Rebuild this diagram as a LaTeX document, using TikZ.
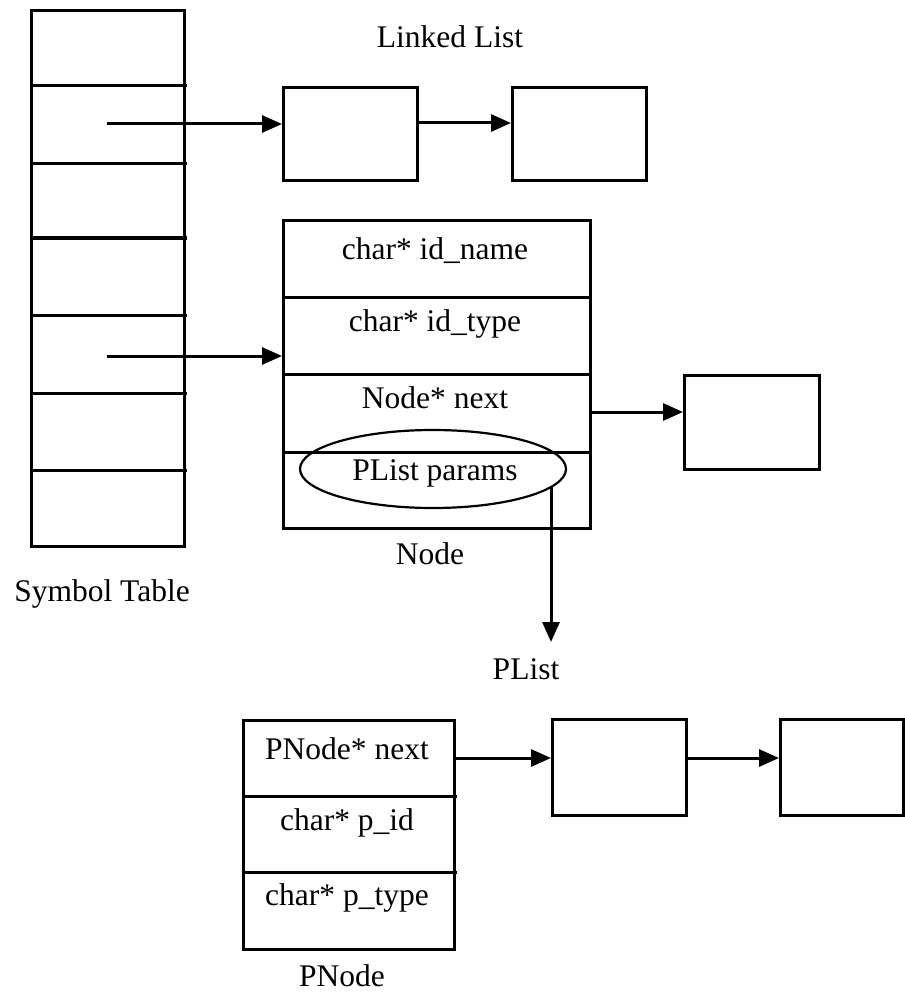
\documentclass[tikz,border=0pt]{standalone}
\usepackage{fontspec}
\setmainfont{Liberation Serif}
\usetikzlibrary{arrows.meta,shapes.geometric}
\tikzset{
  every picture/.style={x=1pt,y=-1pt},
  ln/.style={line width=3pt},
  boxnode/.style={draw,line width=3pt,rectangle,inner sep=0pt,anchor=north west},
  lbl/.style={inner sep=0pt,anchor=center,font=\fontsize{31.5}{36}\selectfont},
  arr/.style={line width=3pt,-{Triangle[length=20pt,width=17pt]}},
  oval/.style={draw,line width=2.2pt,ellipse,inner sep=0pt,minimum width=266pt,minimum height=78pt}
}
\begin{document}
\begin{tikzpicture}
\useasboundingbox (0,0) rectangle (904,992);
% Symbol table
\node[boxnode,minimum width=153pt,minimum height=536pt] (st) at (30,9) {};
\foreach \yy in {86,164,238,315,393,470} \draw[ln] (30,\yy) -- (187,\yy);
\node[lbl] (stl) at (102,594) {Symbol Table};
% Linked list
\node[lbl] (lll) at (450,37) {Linked List};
\node[boxnode,minimum width=134pt,minimum height=93pt] (l1) at (282,86) {};
\node[boxnode,minimum width=134pt,minimum height=93pt] (l2) at (511,86) {};
\coordinate (s1) at (107,124);
\draw[arr] (s1) -- (s1 -| l1.west);
\coordinate (l1o) at (416,123);
\draw[arr] (l1o) -- (l1o -| l2.west);
% Node struct
\node[boxnode,minimum width=307pt,minimum height=308pt] (nd) at (282,219) {};
\foreach \yy in {297,374,452} \draw[ln] (282,\yy) -- (589,\yy);
\node[lbl] (t1) at (435,251) {char* id\_name};
\node[lbl] (t2) at (435,324) {char* id\_type};
\node[lbl] (t3) at (435,398) {Node* next};
\node[oval] (ov) at (433,469) {};
\node[lbl] (t4) at (435,473) {PList params};
\node[lbl] (ndl) at (430,554) {Node};
\coordinate (s2) at (107,356);
\draw[arr] (s2) -- (s2 -| nd.west);
\node[boxnode,minimum width=135pt,minimum height=94pt] (nx) at (683,374) {};
\coordinate (nxo) at (589,412);
\draw[arr] (nxo) -- (nxo -| nx.west);
\coordinate (pv) at (551,487);
\coordinate (pve) at (551,642);
\draw[arr] (pv) -- (pve);
\node[lbl] (pll) at (526,669) {PList};
% PNode struct
\node[boxnode,minimum width=211pt,minimum height=229pt] (pn) at (242,719) {};
\foreach \yy in {796,872} \draw[ln] (242,\yy) -- (457,\yy);
\node[lbl] (u1) at (347,749) {PNode* next};
\node[lbl] (u2) at (347,823) {char* p\_id};
\node[lbl] (u3) at (347,898) {char* p\_type};
\node[lbl] (pnl) at (342,976) {PNode};
\node[boxnode,minimum width=134pt,minimum height=96pt] (p1) at (551,718) {};
\node[boxnode,minimum width=123pt,minimum height=96pt] (p2) at (779,718) {};
\coordinate (pno) at (453,758);
\draw[arr] (pno) -- (pno -| p1.west);
\coordinate (p1o) at (685,758);
\draw[arr] (p1o) -- (p1o -| p2.west);
\end{tikzpicture}
\end{document}
